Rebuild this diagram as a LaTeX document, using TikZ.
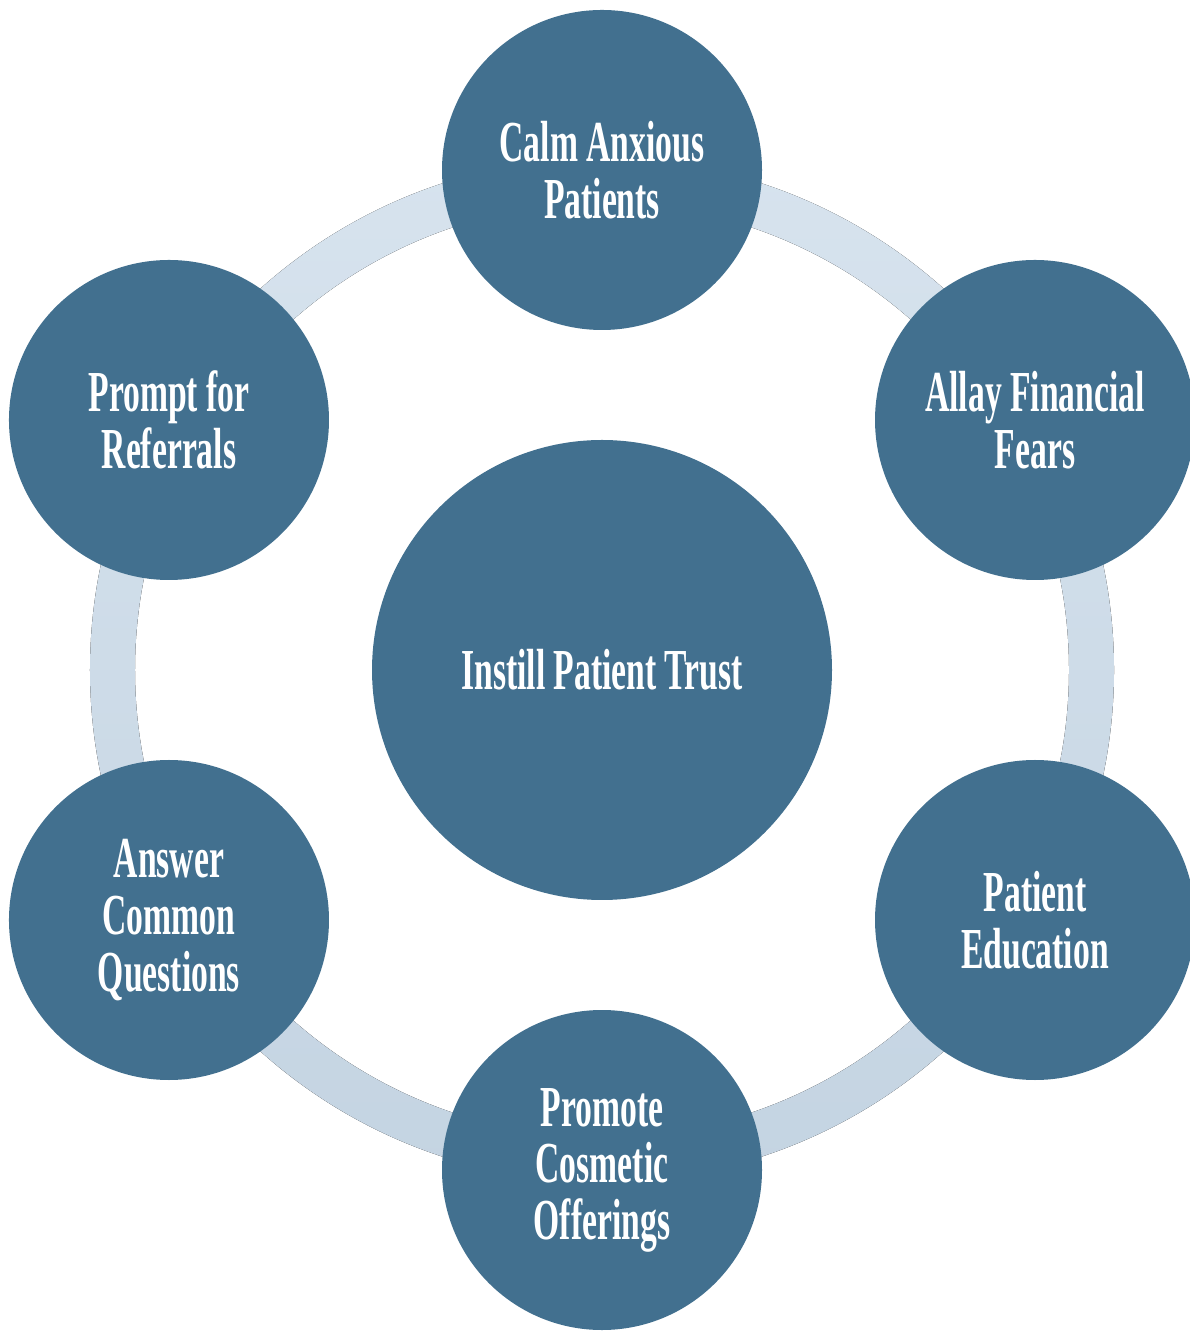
\documentclass[tikz,border=0pt]{standalone}
\usepackage{fontspec}
\setmainfont[FakeStretch=0.58]{Liberation Serif}
\usepackage{tikz}
\definecolor{hub}{HTML}{42708F}
\definecolor{ringtop}{HTML}{D7E3EE}
\definecolor{ringbot}{HTML}{C4D4E2}

\begin{document}
\begin{tikzpicture}[x=1cm,y=1cm,
  bubble/.style={circle,fill=hub,text=white,minimum size=3.2cm,inner sep=0pt,
    align=center,font=\fontsize{16.5}{16.1}\selectfont\bfseries},
  core/.style={bubble,minimum size=4.6cm}]
      \useasboundingbox (-6.02,-6.62) rectangle (5.87,6.70);
      \fill[even odd rule,top color=ringtop,bottom color=ringbot]
      (0,0) circle (5.12) circle (4.67);
      \node[core] (trust) at (0,0) {Instill Patient Trust};
      \node[bubble] (calm) at (90:5) {Calm Anxious\\Patients};
      \node[bubble] (fears) at (30:5) {Allay Financial\\Fears};
      \node[bubble] (educ) at (-30:5) {Patient\\Education};
      \node[bubble] (cosm) at (-90:5) {Promote\\Cosmetic\\Offerings};
      \node[bubble] (quest) at (-150:5) {Answer\\Common\\Questions};
      \node[bubble] (refer) at (150:5) {Prompt for\\Referrals};
    \end{tikzpicture}
\end{document}
